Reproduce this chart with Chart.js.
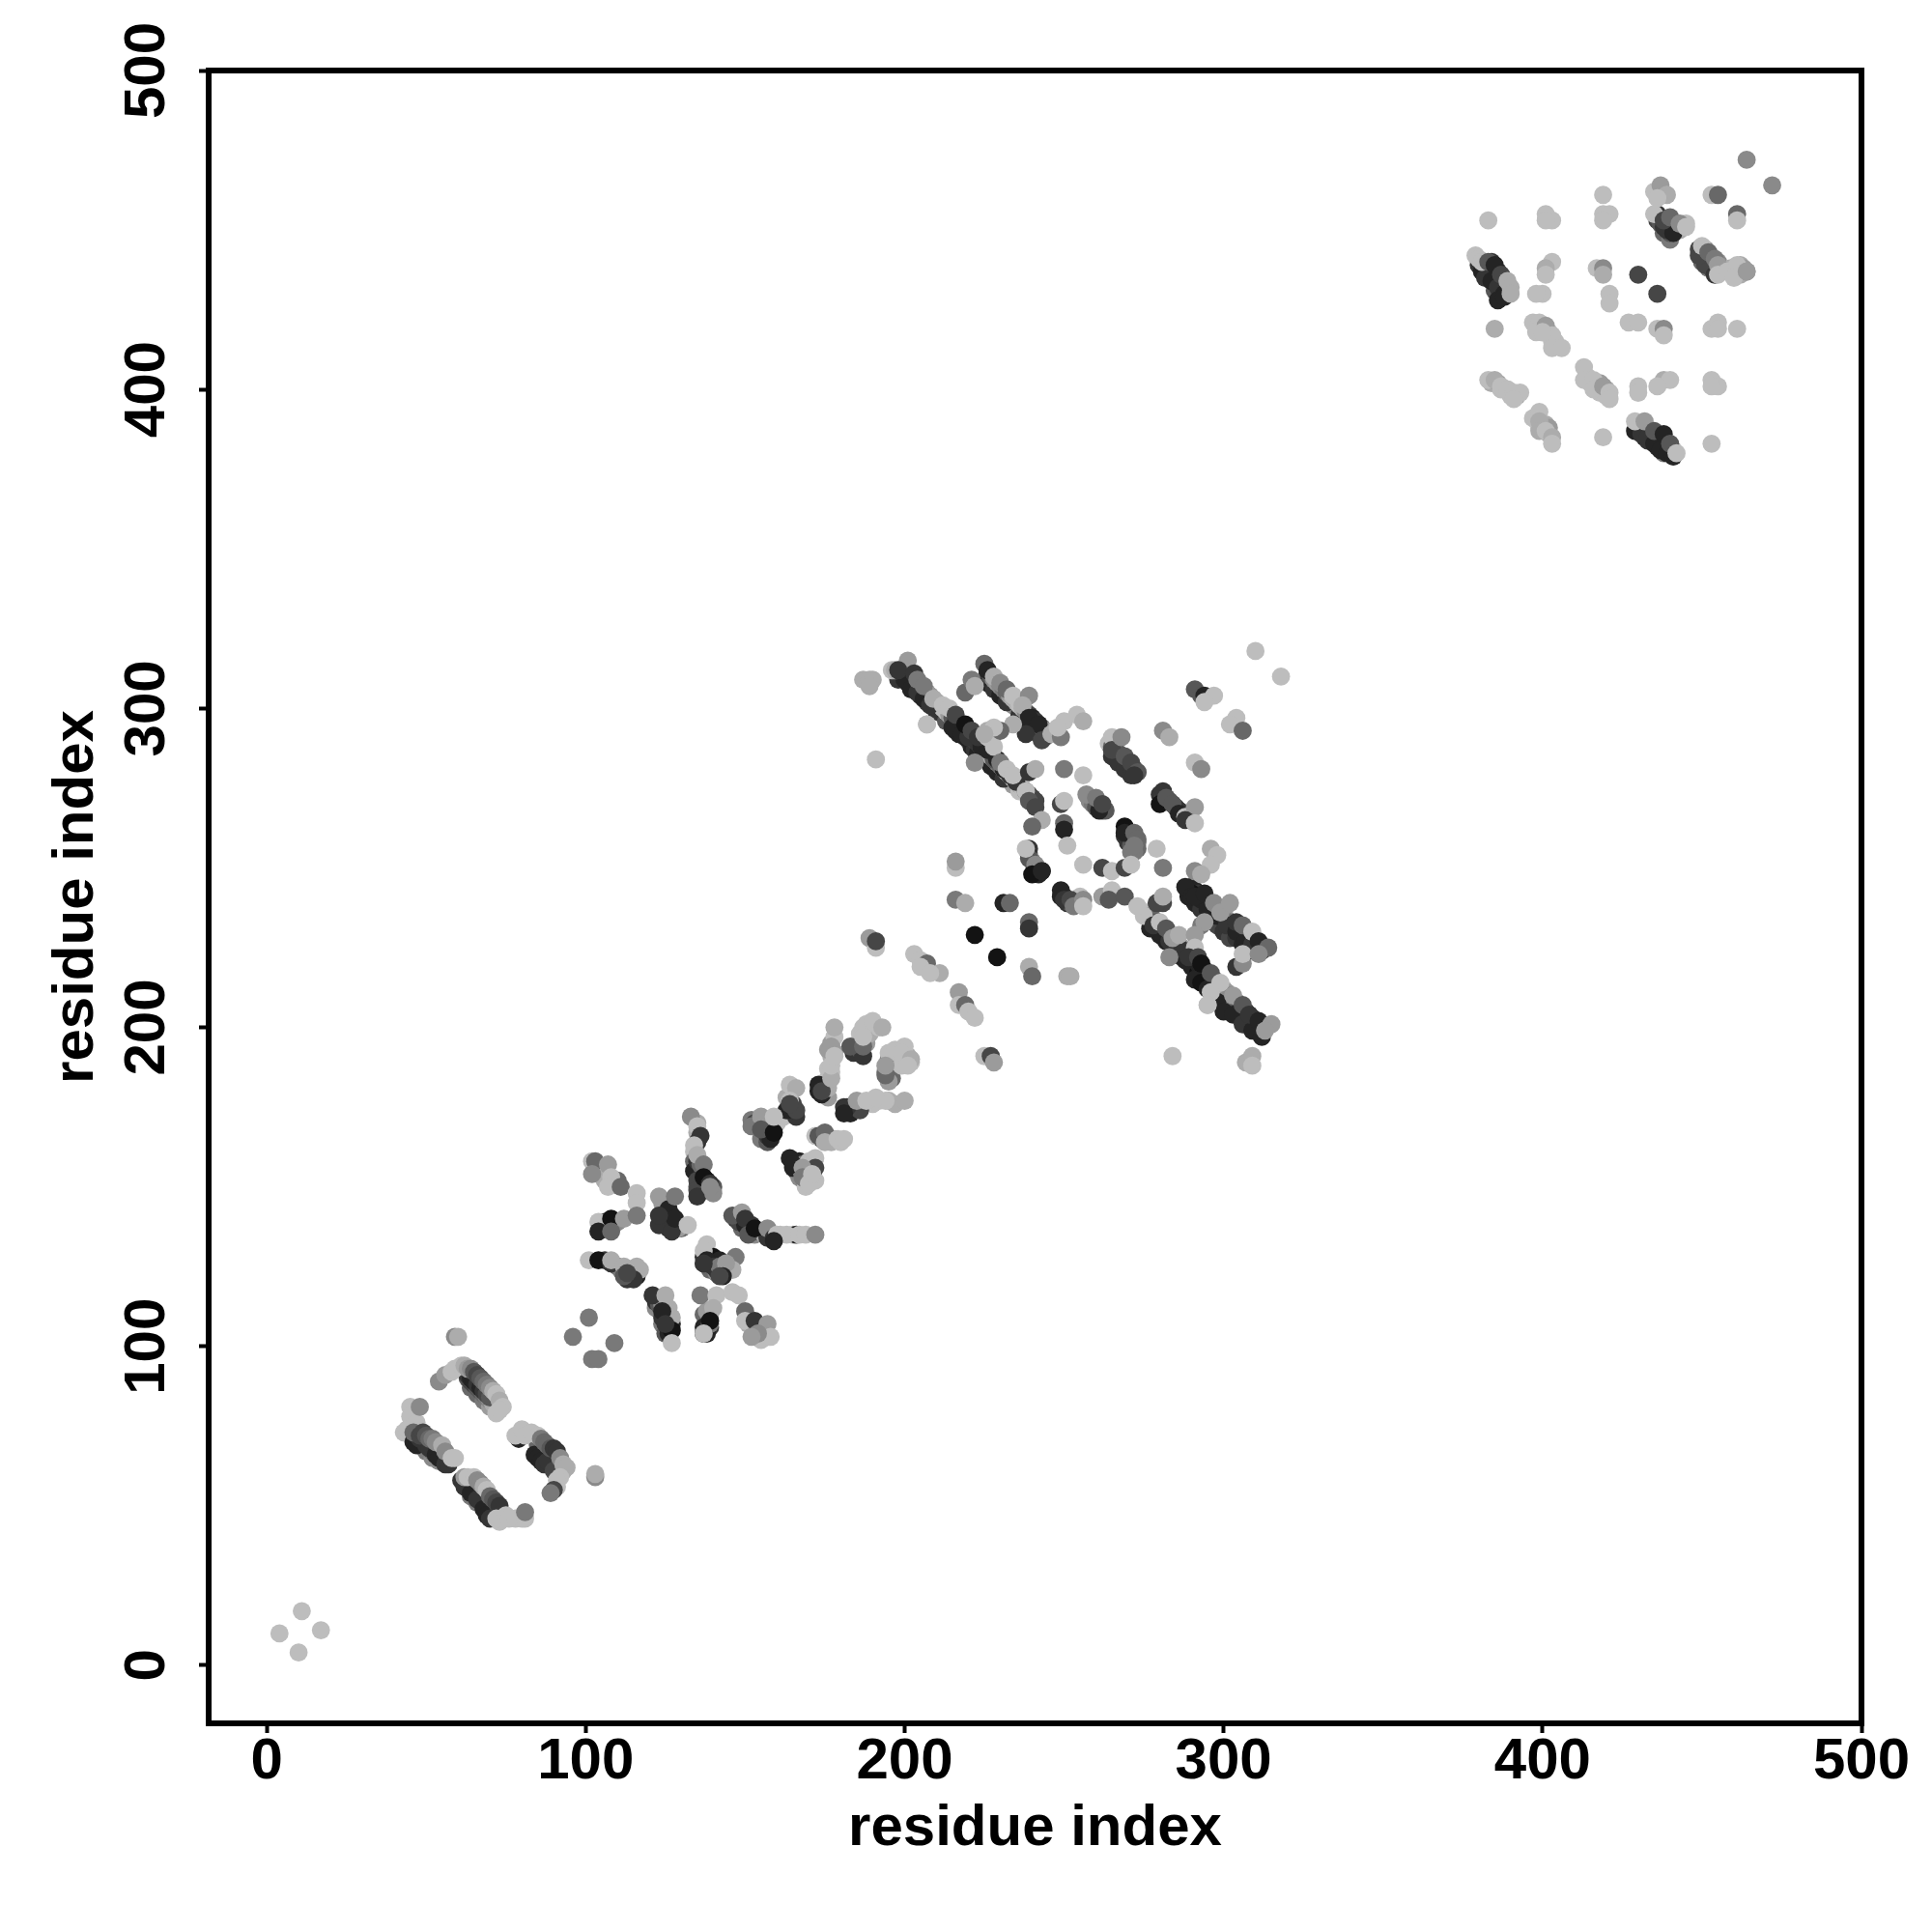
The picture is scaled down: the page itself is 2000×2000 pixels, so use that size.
<!DOCTYPE html>
<html>
<head>
<meta charset="utf-8">
<script src="https://cdn.jsdelivr.net/npm/chart.js@4"></script>
<style>
html,body{margin:0;padding:0;background:#fff;}
#wrap{width:2000px;height:2000px;}
</style>
</head>
<body>
<div id="wrap"><canvas id="contactMap" width="2000" height="2000"></canvas></div>
<script>
const tickValues = [0,100,200,300,400,500];
const axisLabel = "residue index";

// level is the darkness of a contact, 1 nearly black to 11 pale grey
const cornerX = [11,4,17,10];
const cornerY = [17,10,11,4];
const cornerLevel = [11,11,11,11];

const hairpinX = [45,45,43,44,47,46,47,48,50,51,53,54,56,57,46,48,49,50,51,52,53,55,56,58,59,48,
  63,64,65,66,67,68,69,70,54,56,58,59,61,62,63,64,65,66,67,68,69,70,71,72,73,74,72,73,59,60,103,103,
  61,62,64,66,68,69,70,62,63,65,66,67,68,69,70,71,72,73,73,72,75,76,78,80,81,81,
  79,84,85,86,87,88,90,78,80,81,83,85,86,87,88,89,90,91,92,93,94,92,91,91,90,89];
const hairpinY = [81,78,73,74,76,70,69,71,69,68,66,65,63,63,73,72,73,72,71,71,70,69,67,65,65,81,
  91,90,89,88,87,86,85,84,89,91,92,93,94,94,93,93,92,91,90,89,88,87,86,85,83,81,79,80,103,103,59,60,
  58,56,54,52,49,47,46,59,59,59,58,57,56,55,53,52,51,50,45,46,47,46,46,46,46,48,
  71,66,65,64,63,64,61,72,74,72,73,72,71,70,69,68,68,67,65,63,62,59,56,58,55,54];
const hairpinLevel = [11,11,11,11,11,2,2,3,3,3,2,2,3,3,6,4,4,5,6,7,8,10,8,11,11,8,
  3,2,2,3,2,3,4,5,8,9,11,11,11,10,9,8,5,4,5,6,7,8,10,11,10,11,11,11,8,10,8,10,
  3,3,2,3,2,2,3,9,11,11,8,8,10,11,6,5,4,3,11,11,11,11,11,11,11,7,
  2,2,2,2,3,3,4,11,11,11,11,11,7,6,6,5,3,3,8,10,10,11,11,11,4,7];
const hairpinFillX = [63,64,65,66,67,68,69,70,71,
  47,48,49,50,52,53,55,56,
  63,64,65,66,67,68,69,70,71,72,
  85,86,87,88,89,90,91,92,93];
const hairpinFillY = [90,89,88,87,86,85,84,83,82,
  71,70,69,68,67,67,65,64,
  56,55,54,54,52,52,50,49,48,48,
  69,68,67,66,65,64,63,62,61];
const hairpinFillLevel = [5,4,4,5,5,6,7,8,10,
  5,5,6,7,6,8,7,9,
  6,5,7,8,6,5,5,4,4,9,
  6,6,5,4,3,4,9,10,10];

const crossX = [96,101,109,102,104,
  102,103,107,102,108,107,111,116,116,
  104,104,108,108,112,116,
  101,104,108,108,112,116,115,112,113,
  123,123,126,128,127,128,123,132,
  121,125,126,127,127,127,124,125,
  136,141,140,139,139,137,137,
  146,148,150,150,153,157,158,154,152,
  133,135,136,135,135,134,135,135,137,137,139,140,139];
const crossY = [103,109,101,96,96,
  158,158,157,154,153,150,150,148,145,
  139,136,140,136,140,141,
  127,127,126,127,125,125,121,122,123,
  147,138,143,147,136,140,141,138,
  116,116,112,109,105,101,111,107,
  116,116,112,107,108,104,104,
  117,116,111,108,108,107,103,104,103,
  172,169,166,152,149,163,160,147,157,153,151,148,150];
const crossLevel = [7,7,7,7,7,
  11,6,9,8,11,11,6,11,11,
  11,2,1,6,9,7,
  11,1,3,10,10,10,3,5,4,
  9,3,2,7,3,2,3,11,
  3,10,10,10,1,11,2,3,
  7,11,10,7,1,2,11,
  11,11,6,11,3,9,11,8,9,
  8,11,3,4,4,11,10,3,7,1,3,8,8];
const crossFillX = [124,125,125,127,129,130,124,125,126,129,
  106,110,111,113,114,113,116,117,
  106,110,106,
  104,105,104,106,109,110,
  122,123,124,125,124,126,127,126,125,
  137,138,139,137,139,138,
  151,153,155,156,154,157,155,
  135,135,135,134,134,135,136,136,138,138,140,137,138,134,135,136,
  137,138,139,140,142,137,144,143,142];
const crossFillY = [142,140,138,141,138,137,145,139,137,137,
  127,125,124,124,123,121,122,124,
  139,139,137,
  156,155,154,152,151,152,
  114,113,113,110,109,107,107,104,112,
  110,111,110,106,106,104,
  107,106,105,104,106,103,102,
  170,167,164,161,158,156,155,154,152,149,150,149,151,155,158,157,
  130,127,126,125,125,126,126,122,122];
const crossFillLevel = [5,4,3,2,3,6,9,2,3,9,
  3,5,7,9,4,3,2,10,
  3,8,7,
  8,11,10,10,10,6,
  3,5,8,8,3,3,2,2,9,
  6,9,9,2,3,2,
  10,8,7,10,3,10,11,
  10,10,3,11,6,9,6,3,2,3,5,2,3,2,3,6,
  11,2,2,3,7,3,9,2,4];

const crossEastX = [138,137,140,142,147,141,144,146,
  146,149,150,151,153,157,159,160,163,167,169,172,159,
  152,155,155,159,159,164,166,164,166,164,
  173,174,177,177,177,178,178,
  183,187,187,190,193,187,
  194,194,200,199,202,201,
  182,181,185,188,194,200,191,
  172,173,175,175,179,181,
  164,165,172,172,168,168,170,171];
const crossEastY = [132,128,128,127,128,124,124,124,
  141,142,140,135,137,137,134,135,135,135,135,135,133,
  169,172,168,167,172,182,181,177,174,176,
  182,180,184,188,194,200,191,
  194,194,200,202,200,197,
  185,188,194,192,190,188,
  175,173,177,177,177,177,178,
  166,166,167,164,165,165,
  159,157,159,156,156,153,151,154];
const crossEastLevel = [11,3,1,2,7,3,9,10,
  5,9,3,5,1,8,3,11,11,11,11,8,2,
  7,9,5,1,11,11,10,11,4,4,
  2,4,10,11,9,10,11,
  5,6,11,11,10,11,
  6,9,11,11,10,11,
  3,2,9,11,11,10,11,
  11,5,6,10,11,11,
  2,2,11,4,9,7,11,11];
const eastFillX = [147,148,150,152,154,155,156,157,161,165,166,
  152,153,155,157,157,158,160,162,163,164,165,166,165,163,
  173,174,176,176,177,176,177,177,176,178,178,
  184,185,186,188,187,188,189,192,186,188,186,
  195,194,196,195,198,199,201,195,197,202,
  183,184,186,190,192,195,197,186,181,
  174,175,176,177,178,180,
  165,166,167,168,169,170,170,171,171,172,169,168];
const eastFillY = [140,139,138,138,136,136,135,134,135,135,135,
  171,170,170,168,166,165,170,172,178,175,175,172,176,174,
  180,179,181,184,186,187,191,195,193,192,197,
  192,194,193,195,191,198,198,200,196,201,198,
  190,186,184,183,192,188,191,192,193,189,
  173,175,176,176,177,177,176,174,175,
  165,166,165,164,165,164,
  156,157,158,157,155,154,158,156,153,152,152,154];
const eastFillLevel = [3,4,2,3,5,9,10,3,11,11,2,
  7,4,6,2,3,2,11,11,10,3,3,3,4,2,
  2,2,10,11,11,11,10,9,9,9,11,
  3,10,5,9,3,11,10,11,11,11,11,
  7,7,6,9,11,11,10,11,11,11,
  2,3,9,11,11,10,10,4,3,
  3,4,7,10,10,11,
  2,3,2,7,7,8,11,4,9,11,11,10];

const middleX = [198,200,202,204,206,208,215,218,220,224,226,229,231,233,235,
  196,197,201,198,203,204,206,209,212,214,216,219,221,223,226,228,230,232,234,238,239,241,243,240,222,207,
  219,221,222,225,226,228,230,232,234,239,237,239,242,238,243,246,249,234,230,228,225,
  250,254,256,248,239,241,250,256,249,250,250,250,251,
  261,257,260,262,239,239,238,241,240,243,
  265,265,269,268,271,273,272,
  281,280,282,284,286,288,291,288,291,
  269,269,272,273,272,279,281,256,262,265,269,271,
  249,250,252,253,256,256,262,265,264,269,273,281,279,281];
const middleY = [309,309,306,305,303,301,294,292,291,288,287,284,281,279,277,
  312,312,315,312,311,309,307,303,301,300,298,295,293,291,291,288,283,281,279,274,271,269,265,263,283,295,
  305,309,307,314,312,310,308,306,304,304,301,297,295,292,290,292,291,295,293,294,292,
  296,298,296,294,280,281,281,279,270,271,264,262,257,
  268,273,272,270,256,253,256,251,248,249,
  291,287,285,291,283,280,279,
  274,270,272,270,267,266,269,265,264,
  263,261,261,259,257,256,250,251,250,249,250,251,
  243,240,240,238,240,238,241,243,240,241,238,239,239,241];
const middleLevel = [3,2,2,3,2,3,2,2,3,2,2,2,2,3,3,
  11,10,9,3,3,7,7,10,11,11,4,1,4,3,11,11,7,11,11,11,5,4,10,6,8,11,
  6,7,10,6,2,10,8,6,11,8,10,2,2,3,4,10,7,10,6,11,10,
  11,11,10,11,3,10,7,11,4,11,6,2,11,
  2,8,7,4,3,5,11,8,1,2,
  11,4,5,8,4,5,3,
  3,1,5,5,2,11,9,3,11,
  1,2,6,6,7,11,7,11,4,11,4,11,
  2,3,4,7,8,11,9,11,5,5,11,4,4,10];
const middleFillX = [201,203,205,207,210,213,216,217,219,221,222,223,225,227,229,231,
  226,228,230,232,236,238,240,242,
  199,200,201,202,203,204,205,
  206,207,208,209,210,211,212,213,214,215,216,217,218,219,220,221,222,223,224,225,226,227,228,229,230,231,232,233,234,235,236,237,238,239,240,241,
  226,227,228,229,230,231,232,233,234,235,236,237,238,239,240,241,242,243,244,
  226,228,225,228,226,
  264,265,266,267,268,269,270,271,272,273,265,267,269,271,
  280,281,282,283,284,285,286,287,288,289,290,
  239,240,241,242,243,249,250,251,252,253,254,255,
  258,259,260,261,262,263,
  269,270,270,271,273,273,271,272];
const middleFillY = [308,306,304,302,299,296,293,292,291,288,287,286,285,282,280,278,
  308,306,304,302,298,296,294,292,
  312,311,310,309,308,307,306,
  306,305,304,303,302,301,300,299,298,297,296,295,294,293,292,291,290,289,288,287,286,285,284,283,282,281,280,279,278,277,276,275,274,273,272,271,
  311,310,309,308,307,306,305,304,303,302,301,300,299,298,297,296,295,294,293,
  293,292,288,284,288,
  289,288,287,286,285,284,283,282,281,280,285,283,281,279,
  273,272,272,271,270,269,268,267,266,266,265,
  254,252,250,248,249,241,241,239,239,239,240,241,
  271,270,269,269,268,268,
  260,260,258,257,258,256,255,255];
const middleFillLevel = [2,3,2,4,3,5,2,2,2,2,3,2,2,2,2,3,
  2,3,2,3,3,2,2,2,
  5,4,5,4,6,7,7,
  8,9,9,10,10,10,11,11,9,5,4,2,2,3,4,3,4,3,5,7,9,10,8,7,6,9,11,11,11,11,10,11,6,5,4,4,
  3,5,8,9,8,7,6,9,10,10,11,10,8,4,2,3,4,6,9,
  10,8,3,5,6,
  11,6,5,5,5,5,5,5,5,5,3,3,3,3,
  3,4,5,5,5,4,3,3,11,11,11,
  6,7,3,2,2,2,3,3,5,7,8,11,
  8,7,5,5,4,5,
  3,4,3,5,7,6,7,7];

const lowerX = [290,293,295,298,301,304,307,309,312,288,290,291,294,297,299,302,304,306,309,311,314,304,306,306,311,
  277,281,283,286,291,293,295,298,300,303,306,309,312,
  275,278,280,282,284,286,293,294,291,291,283,289,292,293,296,299,296,295,303,306,308,311,315,313,
  296,298,296,291,293,291,293,294,297,294,304,302,306,
  281,283,291,293,191,207,187,189,190,189,
  216,216,216,219,231,233,239,239,222,229,239,240,251,252,
  189,191,191,203,205,207,205,211,208,
  217,217,219,220,222,225,227,228,
  284,307,309,309,310,318,295];
const lowerY = [242,240,237,235,232,230,227,226,224,244,241,241,242,239,236,239,233,232,230,227,225,219,220,223,223,
  231,229,227,225,215,214,212,208,205,204,201,199,197,
  235,232,233,231,228,229,232,233,229,225,222,222,222,220,217,214,211,207,210,207,204,202,201,199,
  256,254,251,249,248,306,304,304,304,302,297,295,293,
  293,291,283,281,284,295,309,309,309,307,
  250,252,240,239,239,239,233,231,229,222,219,216,216,216,
  228,225,227,223,221,220,219,217,217,
  211,207,207,205,203,191,191,189,
  191,189,191,188,318,310,207];
const lowerLevel = [1,2,2,2,3,2,2,3,2,2,2,2,2,8,9,9,3,6,11,2,6,3,8,11,8,
  2,2,3,3,2,1,2,2,2,2,3,2,2,
  11,3,11,5,9,10,7,9,9,11,8,3,4,1,5,11,11,11,9,5,3,2,9,9,
  10,11,11,8,10,5,5,2,11,11,11,11,6,
  8,10,11,8,11,11,10,10,10,10,
  11,9,7,10,2,6,6,3,1,1,10,6,10,10,
  9,11,4,11,11,6,11,10,11,
  9,11,6,11,11,11,4,9,
  11,10,10,11,11,11,11];
const lowerFillX = [280,282,284,285,287,288,290,292,294,296,302,304,305,307,308,310,
  289,291,293,296,298,300,302,304,306,308,
  276,277,278,279,280,281,282,283,284,285,286,287,288,289,290,291,292,293,294,295,296,297,298,299,300,301,302,303,304,305,306,307,308,309,310,311,312,
  290,291,292,293,294,295,296,297,298,299,300,301,302,303,304,305,306,307,308,309,310,311,312];
const lowerFillY = [229,227,225,224,222,221,219,217,215,213,207,205,204,202,201,199,
  241,239,237,235,232,230,228,228,226,224,
  236,235,234,233,232,231,230,229,228,227,226,225,224,223,222,221,220,219,218,217,216,215,214,213,212,211,210,209,208,207,206,205,204,203,202,201,200,
  244,243,242,241,240,239,238,237,237,236,235,234,233,232,232,231,230,229,228,227,226,226,225];
const lowerFillLevel = [2,2,3,2,2,2,2,1,2,3,2,2,2,2,2,2,
  2,2,3,3,4,3,4,3,2,2,
  11,9,6,5,6,5,8,9,9,10,10,9,4,3,2,2,2,2,2,3,5,8,11,11,10,9,8,7,6,5,4,4,3,3,2,3,4,
  2,2,3,2,3,4,6,8,9,9,10,9,7,5,6,7,9,10,8,4,3,3,6];

const topX = [381,382,384,386,388,386,388,429,431,433,435,437,439,441,436,441,
  379,380,381,383,385,387,389,390,390,
  403,401,401,400,398,417,419,419,430,436,421,421,427,430,436,438,438,385,453,455,455,461,
  397,399,398,401,403,403,406,400,
  413,413,416,416,419,421,421,430,430,438,440,436,453,455,453,
  383,385,387,389,391,393,391,397,399,399,399,401,403,403,419,453,
  429,432,435,438,440,442,
  435,437,439,436,435,438,440,443,445,419,419,421,419,401,403,401,383,
  449,450,452,454,455,455,458,461,460,464,
  453,455,461,461,464,472];
const topY = [437,435,434,432,430,428,429,387,386,385,383,381,380,379,455,449,
  442,441,440,440,439,436,434,432,430,
  440,438,436,430,430,438,438,436,436,430,430,427,421,421,419,419,417,419,419,421,419,419,
  421,421,418,420,417,413,413,418,
  407,403,403,400,401,399,397,401,399,403,403,401,403,401,401,
  403,403,401,400,399,399,397,391,393,390,387,387,385,383,385,383,
  390,390,387,386,383,380,
  462,464,461,460,455,453,454,452,451,461,455,455,453,455,453,453,453,
  442,445,443,441,439,436,437,439,435,437,
  461,461,455,453,472,464];
const topLevel = [2,3,2,3,2,2,2,2,3,3,2,2,2,2,3,2,
  11,11,11,5,2,4,10,10,10,
  11,10,11,11,11,11,8,10,4,4,11,11,11,11,11,8,11,10,11,11,11,11,
  11,11,11,9,11,11,11,11,
  11,11,11,11,9,11,11,11,11,10,11,11,11,11,11,
  11,10,11,11,11,11,11,11,11,10,10,11,10,11,11,11,
  11,9,5,2,5,11,
  11,9,10,11,11,4,6,8,11,11,11,11,11,11,11,11,11,
  4,11,6,7,9,11,11,11,11,9,
  11,6,6,11,8,8];
const topFillX = [380,382,383,384,385,386,387,388,389,388,387,389,384,
  430,431,433,434,436,437,439,438,440,441,441,432,433,436,
  436,437,438,439,439,441,442,440,443,445,441,439,
  449,450,451,451,452,453,453,454,456,455,451,454,
  459,460,462,462,461,463,464,
  398,399,400,402,403,404,
  414,415,417,418,420,420,418,
  384,386,387,390,392,389,
  400,401,402,402,399];
const topFillY = [439,438,437,438,436,437,435,433,432,431,431,430,440,
  389,388,387,386,385,384,382,382,381,379,381,385,384,382,
  453,452,451,451,453,451,452,449,450,452,449,450,
  444,442,444,441,441,440,438,439,438,440,439,436,
  438,436,436,439,437,438,437,
  420,419,418,418,415,415,
  404,402,402,402,400,398,399,
  402,402,400,398,398,400,
  389,389,386,388,388];
const topFillLevel = [3,3,3,4,4,3,4,6,8,8,9,9,3,
  9,7,6,4,3,2,5,2,7,11,11,2,3,3,
  4,5,3,4,4,6,7,5,10,11,10,3,
  4,3,9,4,6,5,4,6,10,8,4,3,
  10,10,10,10,8,9,9,
  10,11,10,11,11,11,
  11,11,10,9,10,11,11,
  10,9,11,11,10,11,
  10,10,10,9,11];

// mid grey contacts that sit over the dark lower edge of each band
const bandX = [202,204,206,208,210,212,214,216,218,220,222,224,226,228,230,232,234,236,
  228,230,232,234,236,238,240,242,244,
  280,282,284,286,288,290,292,294,296,298,300,302,304,306,308,310,
  292,294,296,298,300,302,304,306,308,310,
  64,66,68,70,48,50,52,54,64,66,68,70,86,88,90,
  383,385,387,385,432,434,436,438,438,440,450,452,454,
  124,126,128,122,124,125,135,137,139,137,139,141,149,151,153,155,157,174,176,166,167,169];
const bandY = [308,306,304,302,300,298,296,294,292,290,288,286,284,282,280,278,276,274,
  307,305,303,301,299,297,295,293,291,
  230,228,226,224,222,220,218,216,214,212,210,208,206,204,202,200,
  240,238,237,235,233,231,230,228,226,224,
  87,85,83,81,69,67,65,64,53,51,50,47,66,64,62,
  435,433,432,431,386,384,383,380,449,447,440,438,437,
  139,138,138,112,107,104,150,151,149,126,124,123,137,136,135,165,164,181,178,155,153,150];
const bandLevel = [6,7,6,8,9,9,6,3,4,5,5,6,7,6,7,9,9,11,
  6,6,7,8,8,5,4,5,6,
  6,7,7,8,6,4,3,4,6,10,10,8,6,5,4,5,
  4,5,6,7,7,5,6,7,5,5,
  6,6,7,9,6,7,8,8,7,7,6,5,6,6,7,
  5,6,8,5,6,6,6,7,6,7,6,7,5,
  6,7,8,8,7,5,5,6,6,7,6,8,6,6,8,7,5,8,9,6,8,11];

function shadeOf(level){
  const g = level * 17 + 2;
  return "rgb(" + g + "," + g + "," + g + ")";
}

function makeSet(xs, ys, levels){
  return {
    data: xs.map((x, i) => ({x: x, y: ys[i]})),
    pointBackgroundColor: levels.map(shadeOf),
    pointBorderWidth: 0,
    pointRadius: 9.4,
    showLine: false
  };
}

const frame = {
  id: "frame",
  afterDraw(chart){
    const a = chart.chartArea;
    const c = chart.ctx;
    c.save();
    c.strokeStyle = "#000";
    c.lineWidth = 6;
    c.strokeRect(a.left, a.top, a.right - a.left, a.bottom - a.top);
    c.restore();
  }
};

const boldFont = {family: "Liberation Sans", size: 60, weight: "bold"};

new Chart(document.getElementById("contactMap"), {
  type: "scatter",
  data: {
    datasets: [
      makeSet(cornerX, cornerY, cornerLevel),
      makeSet(hairpinX, hairpinY, hairpinLevel),
      makeSet(hairpinFillX, hairpinFillY, hairpinFillLevel),
      makeSet(crossX, crossY, crossLevel),
      makeSet(crossFillX, crossFillY, crossFillLevel),
      makeSet(crossEastX, crossEastY, crossEastLevel),
      makeSet(eastFillX, eastFillY, eastFillLevel),
      makeSet(middleX, middleY, middleLevel),
      makeSet(middleFillX, middleFillY, middleFillLevel),
      makeSet(lowerX, lowerY, lowerLevel),
      makeSet(lowerFillX, lowerFillY, lowerFillLevel),
      makeSet(topX, topY, topLevel),
      makeSet(topFillX, topFillY, topFillLevel),
      makeSet(bandX, bandY, bandLevel)
    ]
  },
  options: {
    responsive: false,
    animation: false,
    layout: {padding: {top: 73, right: 73}},
    plugins: {legend: {display: false}, tooltip: {enabled: false}},
    scales: {
      x: {
        type: "linear",
        min: -18.2,
        max: 500,
        afterBuildTicks(s){ s.ticks = tickValues.map(v => ({value: v})); },
        afterFit(s){ s.height = 216; },
        grid: {drawOnChartArea: false, tickLength: 10, tickColor: "#000", tickWidth: 4},
        border: {display: false},
        ticks: {color: "#000", font: boldFont, padding: -6, maxRotation: 0, autoSkip: false, callback: v => String(v)},
        title: {display: true, text: axisLabel, color: "#000", font: boldFont, padding: {top: 0, bottom: 71}}
      },
      y: {
        type: "linear",
        min: -18.2,
        max: 500,
        afterBuildTicks(s){ s.ticks = tickValues.map(v => ({value: v})); },
        afterFit(s){ s.width = 216; },
        grid: {drawOnChartArea: false, tickLength: 10, tickColor: "#000", tickWidth: 4},
        border: {display: false},
        ticks: {color: "#000", font: boldFont, padding: 2, minRotation: 90, maxRotation: 90, crossAlign: "center", autoSkip: false, callback: v => String(v)},
        title: {display: true, text: axisLabel, color: "#000", font: boldFont, padding: {top: 43, bottom: 0}}
      }
    }
  },
  plugins: [frame]
});
</script>
</body>
</html>
